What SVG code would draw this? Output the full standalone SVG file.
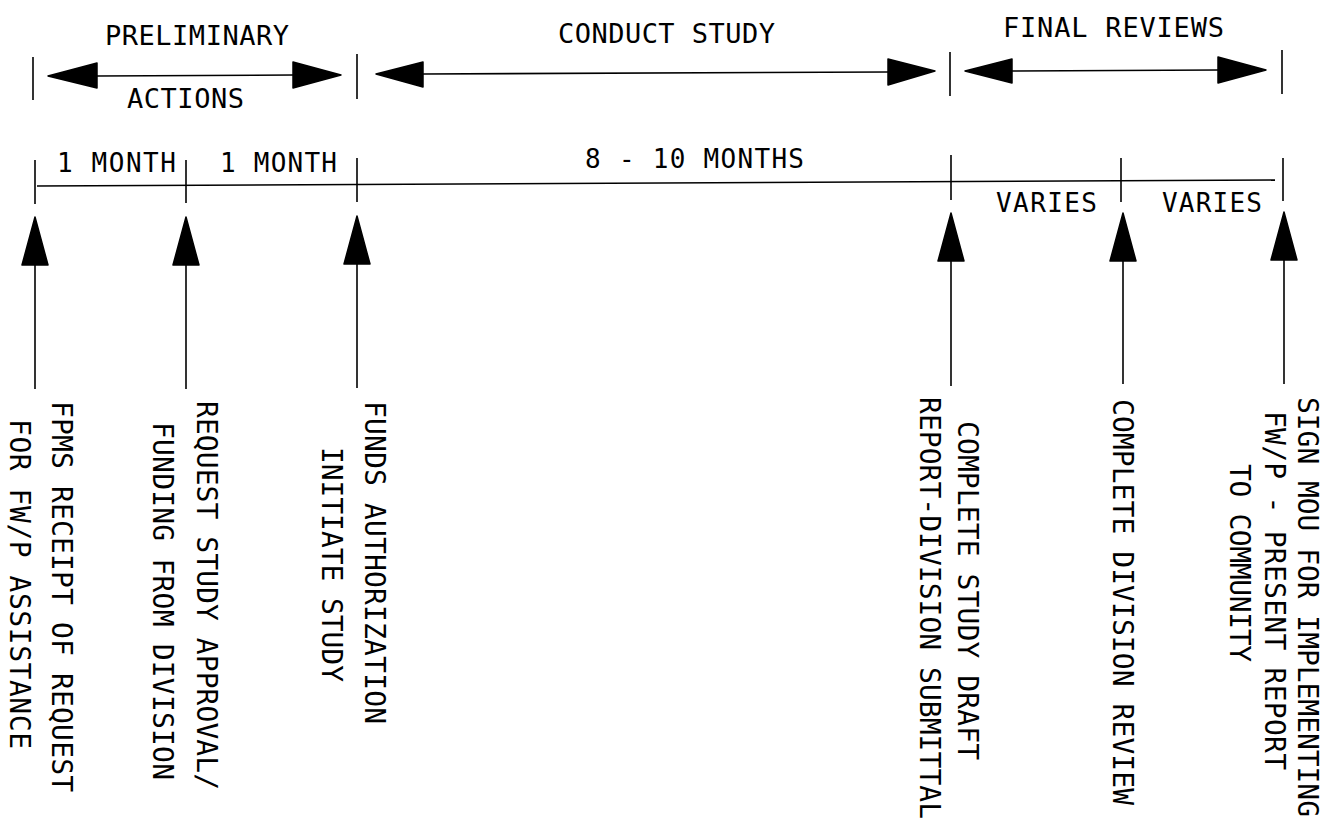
<svg xmlns="http://www.w3.org/2000/svg" xmlns:xlink="http://www.w3.org/1999/xlink" width="1323" height="820" viewBox="0 0 1323 820">
<style>
  .bg { fill: #ffffff; }
  .ln { stroke: #000; stroke-width: 1.6; fill: none; stroke-linecap: butt; }
  .tk { stroke: #000; stroke-width: 1.6; fill: none; }
  .ah { fill: #000; stroke: #000; stroke-width: 1.5; stroke-linejoin: round; }
  .t { font-family: "DejaVu Sans Mono", "Liberation Mono", monospace; fill: #000; }
  .hd { font-size: 27px; }
  .du { font-size: 26px; }
  .v { font-size: 28px; }
</style>
<defs>
  <polygon id="upHead" points="0,0 -13,48 13,48"/>
</defs>
<rect class="bg" x="0" y="0" width="1323" height="820"/>

<g id="connectors">
  <!-- phase boundary ticks (top) -->
  <line class="tk" x1="33" y1="57" x2="33" y2="100"/>
  <line class="tk" x1="357" y1="54" x2="357" y2="99"/>
  <line class="tk" x1="950" y1="52" x2="950" y2="96"/>
  <line class="tk" x1="1282" y1="50" x2="1282" y2="94"/>

  <!-- PRELIMINARY double arrow -->
  <line class="ln" x1="97" y1="76" x2="293" y2="75"/>
  <polygon class="ah" points="48,76 97,63 97,88"/>
  <polygon class="ah" points="341,75 293,62 293,88"/>

  <!-- CONDUCT STUDY double arrow -->
  <line class="ln" x1="423" y1="74" x2="888" y2="72"/>
  <polygon class="ah" points="376,74 423,62 423,87"/>
  <polygon class="ah" points="935,71 888,59 888,85"/>

  <!-- FINAL REVIEWS double arrow -->
  <line class="ln" x1="1012" y1="71" x2="1218" y2="70"/>
  <polygon class="ah" points="965,71 1012,59 1012,83"/>
  <polygon class="ah" points="1266,70 1218,57 1218,83"/>

  <!-- timeline -->
  <line class="ln" x1="37" y1="186" x2="1275" y2="180"/>
  <line class="tk" x1="35" y1="160" x2="35" y2="204"/>
  <line class="tk" x1="186" y1="160" x2="186" y2="203"/>
  <line class="tk" x1="357" y1="158" x2="357" y2="202"/>
  <line class="tk" x1="951" y1="155" x2="951" y2="200"/>
  <line class="tk" x1="1121" y1="158" x2="1121" y2="202"/>
  <line class="tk" x1="1283" y1="158" x2="1283" y2="201"/>

  <!-- milestone up arrows -->
  <use xlink:href="#upHead" class="ah" x="35" y="217"/>
  <line class="ln" x1="35" y1="262" x2="35" y2="389"/>
  <use xlink:href="#upHead" class="ah" x="186" y="217"/>
  <line class="ln" x1="186" y1="262" x2="186" y2="389"/>
  <use xlink:href="#upHead" class="ah" x="357" y="216"/>
  <line class="ln" x1="357" y1="261" x2="357" y2="388"/>
  <use xlink:href="#upHead" class="ah" x="951" y="213"/>
  <line class="ln" x1="951" y1="258" x2="951" y2="386"/>
  <use xlink:href="#upHead" class="ah" x="1123" y="213"/>
  <line class="ln" x1="1123" y1="258" x2="1123" y2="384"/>
  <use xlink:href="#upHead" class="ah" x="1284" y="212"/>
  <line class="ln" x1="1284" y1="257" x2="1284" y2="384"/>
</g>

<g id="phase-preliminary">
  <text class="t hd" x="105" y="45" textLength="184" lengthAdjust="spacing">PRELIMINARY</text>
  <text class="t hd" x="127" y="108" textLength="117" lengthAdjust="spacing">ACTIONS</text>
</g>
<g id="phase-conduct">
  <text class="t hd" x="558" y="43" textLength="217" lengthAdjust="spacing">CONDUCT STUDY</text>
</g>
<g id="phase-final">
  <text class="t hd" x="1003" y="37" textLength="221" lengthAdjust="spacing">FINAL REVIEWS</text>
</g>

<g id="durations">
  <text class="t du" x="57" y="172" textLength="119" lengthAdjust="spacing">1 MONTH</text>
  <text class="t du" x="220" y="172" textLength="117" lengthAdjust="spacing">1 MONTH</text>
  <text class="t du" x="585" y="168" textLength="219" lengthAdjust="spacing">8 - 10 MONTHS</text>
  <text class="t du" x="996" y="212" textLength="101" lengthAdjust="spacing">VARIES</text>
  <text class="t du" x="1162" y="212" textLength="100" lengthAdjust="spacing">VARIES</text>
</g>

<g id="m1-receipt">
  <text class="t v" transform="translate(52,401) rotate(90)" textLength="391" lengthAdjust="spacing">FPMS RECEIPT OF REQUEST</text>
  <text class="t v" transform="translate(10,419) rotate(90)" textLength="330" lengthAdjust="spacing">FOR FW/P ASSISTANCE</text>
</g>
<g id="m2-approval">
  <text class="t v" transform="translate(197,401) rotate(90)" textLength="389" lengthAdjust="spacing">REQUEST STUDY APPROVAL/</text>
  <text class="t v" transform="translate(153,422) rotate(90)" textLength="358" lengthAdjust="spacing">FUNDING FROM DIVISION</text>
</g>
<g id="m3-funds">
  <text class="t v" transform="translate(365,401) rotate(90)" textLength="323" lengthAdjust="spacing">FUNDS AUTHORIZATION</text>
  <text class="t v" transform="translate(322,447) rotate(90)" textLength="235" lengthAdjust="spacing">INITIATE STUDY</text>
</g>
<g id="m4-draft">
  <text class="t v" transform="translate(958,421) rotate(90)" textLength="339" lengthAdjust="spacing">COMPLETE STUDY DRAFT</text>
  <text class="t v" transform="translate(920,397) rotate(90)" textLength="422" lengthAdjust="spacing">REPORT-DIVISION SUBMITTAL</text>
</g>
<g id="m5-review">
  <text class="t v" transform="translate(1113,399) rotate(90)" textLength="406" lengthAdjust="spacing">COMPLETE DIVISION REVIEW</text>
</g>
<g id="m6-mou">
  <text class="t v" transform="translate(1298,397) rotate(90)" textLength="420" lengthAdjust="spacing">SIGN MOU FOR IMPLEMENTING</text>
  <text class="t v" transform="translate(1265,411) rotate(90)" textLength="359" lengthAdjust="spacing">FW/P - PRESENT REPORT</text>
  <text class="t v" transform="translate(1230,464) rotate(90)" textLength="198" lengthAdjust="spacing">TO COMMUNITY</text>
</g>
</svg>
